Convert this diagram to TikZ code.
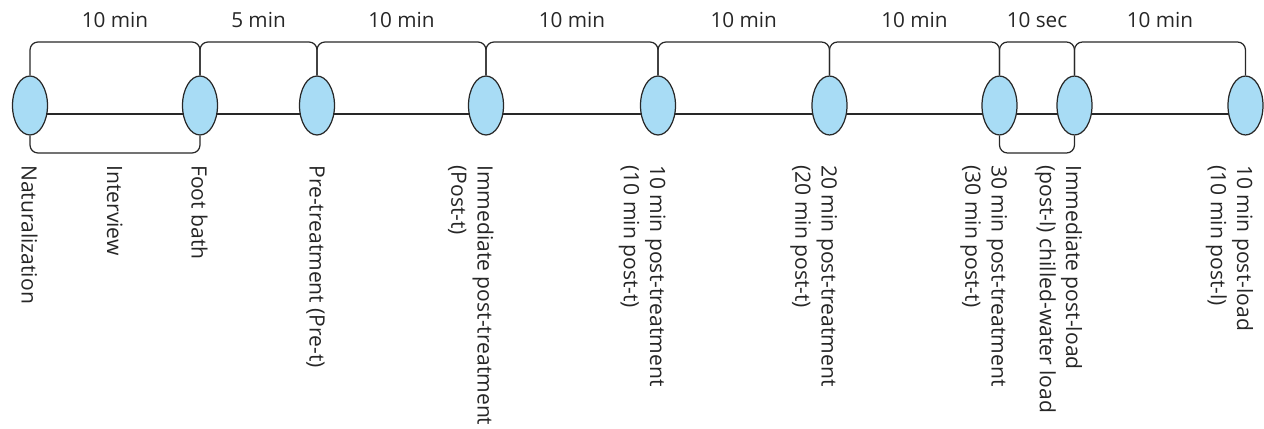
\documentclass[tikz,border=0pt]{standalone}
\usepackage{fontspec}
\setmainfont{Open Sans}
\usepackage{xcolor}
\usepackage{tikz}
\usetikzlibrary{shapes,arrows,positioning,calc,backgrounds}

\definecolor{stageblue}{RGB}{168,220,245}
\definecolor{linegray}{RGB}{40,40,40}

\begin{document}
\begin{tikzpicture}[x=0.02cm, y=-0.02cm,
    stage/.style={ellipse, draw=linegray, line width=0.7pt, fill=stageblue,
        minimum width=0.7cm, minimum height=1.18cm, inner sep=0pt},
    bracket/.style={draw=linegray, line width=0.7pt, rounded corners=0.16cm},
    lbl/.style={rotate=-90, anchor=north west, align=left, inner sep=0pt,
        font=\fontsize{12}{15}\selectfont, text=black!85},
    dur/.style={anchor=base, inner sep=0pt,
        font=\fontsize{11.8}{15}\selectfont, text=black!85}]

    \useasboundingbox (0,0) rectangle (1264,429);

    % Stages on the time line
    \foreach \x [count=\i] in {30,200,317,486,658,829.5,999.5,1074.5,1245.5} {
        \node[stage] (n\i) at (\x,105.5) {};
    }

    % Time line behind the stages
    \begin{scope}[on background layer]
        \foreach \i [evaluate=\i as \j using int(\i+1)] in {1,...,8} {
            \draw[bracket] ([yshift=-0.17cm]n\i.center) -- ([yshift=-0.17cm]n\j.center);
        }
    \end{scope}

    % Durations above
    \foreach \a/\b/\t in {1/2/10 min, 2/3/5 min, 3/4/10 min, 4/5/10 min,
                          5/6/10 min, 6/7/10 min, 7/8/10 sec, 8/9/10 min} {
        \draw[bracket] (n\a.north) -- (n\a |- 0,42) -| (n\b.north);
        \node[dur] (d\a) at ($(n\a |- 0,28)!.5!(n\b |- 0,28)$) {\t};
    }

    % Brackets below
    \draw[bracket] (n1.south) -- (n1 |- 0,153) -| (n2.south);
    \draw[bracket] (n7.south) -- (n7 |- 0,153) -| (n8.south);

    % Labels
    \node[lbl] (t1) at ($(n1 |- 0,165)+(8,0)$) {Naturalization};
    \node[lbl] (tint) at ($(n1 |- 0,165)!.5!(n2 |- 0,165)+(8,0)$) {Interview};
    \node[lbl] (t2) at ($(n2 |- 0,165)+(8,0)$) {Foot bath};
    \node[lbl] (t3) at ($(n3 |- 0,165)+(8,0)$) {Pre-treatment (Pre-t)};
    \node[lbl] (t4) at ($(n4 |- 0,165)+(8,0)$) {Immediate post-treatment\\(Post-t)};
    \node[lbl] (t5) at ($(n5 |- 0,165)+(8,0)$) {10 min post-treatment\\(10 min post-t)};
    \node[lbl] (t6) at ($(n6 |- 0,165)+(8,0)$) {20 min post-treatment\\(20 min post-t)};
    \node[lbl] (t7) at ($(n7 |- 0,165)+(8,0)$) {30 min post-treatment\\(30 min post-t)};
    \node[lbl] (t8) at ($(n8 |- 0,165)+(8,0)$) {Immediate post-load\\(post-l) chilled-water load};
    \node[lbl] (t9) at ($(n9 |- 0,165)+(8,0)$) {10 min post-load\\(10 min post-l)};

\end{tikzpicture}
\end{document}
